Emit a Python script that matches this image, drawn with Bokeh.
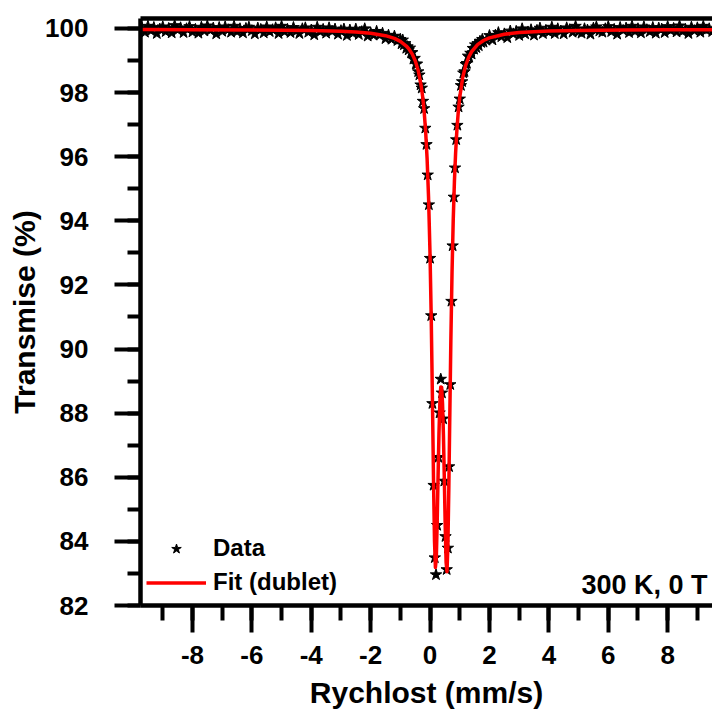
from bokeh.plotting import figure
from bokeh.models import (Range1d, LinearAxis, SingleIntervalTicker, FixedTicker,
                          Legend, LegendItem, Label, ColumnDataSource, PrintfTickFormatter)
from bokeh.embed import file_html
from bokeh.resources import INLINE

# ---- measured spectrum (velocity mm/s, transmission %) ----
vel_left = [-9.7, -9.6, -9.5, -9.4, -9.3, -9.2, -9.1, -9.0, -8.9, -8.8, -8.7, -8.6, -8.5, -8.4,
            -8.3, -8.2, -8.1, -8.0, -7.9, -7.8, -7.7, -7.6, -7.5, -7.4, -7.3, -7.2, -7.1, -7.0,
            -6.9, -6.8, -6.7, -6.6, -6.5, -6.4, -6.3, -6.2, -6.1, -6.0, -5.9, -5.8, -5.7, -5.6,
            -5.5, -5.4, -5.3, -5.2, -5.1, -5.0, -4.9, -4.8, -4.7, -4.6, -4.5, -4.4, -4.3, -4.2,
            -4.1, -4.0, -3.9, -3.8, -3.7, -3.6, -3.5, -3.4, -3.3, -3.2, -3.1, -3.0, -2.9, -2.8,
            -2.7, -2.6, -2.5, -2.4, -2.3, -2.2, -2.1, -2.0, -1.9, -1.8, -1.7, -1.6, -1.5, -1.4,
            -1.3, -1.2, -1.1]
trans_left = [100.01, 99.88, 100.07, 99.93, 100.03, 99.84, 99.98, 100.05, 99.90, 100.00, 99.86,
              100.09, 99.95, 100.02, 99.87, 99.99, 100.06, 99.89, 99.97, 99.85, 100.04, 99.92,
              100.08, 99.94, 100.01, 99.83, 100.03, 99.91, 100.05, 99.96, 99.88, 100.07, 99.90,
              99.99, 99.86, 100.00, 100.04, 99.93, 99.83, 100.01, 99.97, 99.86, 100.05, 99.90,
              99.96, 100.02, 99.84, 100.07, 99.90, 99.97, 99.87, 100.03, 99.92, 99.84, 99.99,
              100.02, 99.88, 99.95, 99.80, 100.04, 99.90, 99.97, 99.85, 100.02, 99.91, 99.98,
              99.82, 99.93, 99.98, 99.78, 99.95, 99.85, 99.98, 99.81, 99.90, 99.99, 99.76, 99.86,
              99.79, 99.91, 99.79, 99.85, 99.68, 99.79, 99.66, 99.76, 99.62]

vel_dip = [-1.0, -0.96, -0.92, -0.88, -0.84, -0.8, -0.76, -0.72, -0.68, -0.64, -0.6, -0.56, -0.52,
           -0.48, -0.44, -0.4, -0.36, -0.32, -0.28, -0.24, -0.2, -0.16, -0.12, -0.08, -0.04, 0.0,
           0.04, 0.08, 0.12, 0.16, 0.2, 0.24, 0.28, 0.32, 0.36, 0.4, 0.44, 0.48, 0.52, 0.56, 0.6,
           0.64, 0.68, 0.72, 0.76, 0.8, 0.84, 0.88, 0.92, 0.96, 1.0, 1.04, 1.08, 1.12, 1.16, 1.2,
           1.24, 1.28, 1.32, 1.36, 1.4, 1.44, 1.48, 1.52, 1.56, 1.6, 1.64, 1.68, 1.72, 1.76, 1.8]
trans_dip = [99.66, 99.52, 99.64, 99.49, 99.53, 99.38, 99.43, 99.33, 99.39, 99.24,
             99.25, 99.04, 99.07, 98.89, 98.89, 98.65, 98.55, 98.24, 98.14, 97.73,
             97.50, 96.89, 96.38, 95.43, 94.50, 92.83, 91.04, 88.30, 85.75, 83.49,
             82.96, 84.50, 86.62, 88.01, 89.06, 88.63, 87.82, 85.88, 84.15, 83.12,
             83.79, 86.33, 88.89, 91.49, 93.22, 94.74, 95.65, 96.53, 96.98, 97.55,
             97.80, 98.22, 98.34, 98.61, 98.65, 98.88, 98.91, 99.14, 99.10, 99.23,
             99.20, 99.38, 99.35, 99.49, 99.40, 99.53, 99.46, 99.60, 99.56, 99.66, 99.57]

vel_right = [1.9, 2.0, 2.1, 2.2, 2.3, 2.4, 2.5, 2.6, 2.7, 2.8, 2.9, 3.0, 3.1, 3.2, 3.3, 3.4, 3.5,
             3.6, 3.7, 3.8, 3.9, 4.0, 4.1, 4.2, 4.3, 4.4, 4.5, 4.6, 4.7, 4.8, 4.9, 5.0, 5.1, 5.2,
             5.3, 5.4, 5.5, 5.6, 5.7, 5.8, 5.9, 6.0, 6.1, 6.2, 6.3, 6.4, 6.5, 6.6, 6.7, 6.8, 6.9,
             7.0, 7.1, 7.2, 7.3, 7.4, 7.5, 7.6, 7.7, 7.8, 7.9, 8.0, 8.1, 8.2, 8.3, 8.4, 8.5, 8.6,
             8.7, 8.8, 8.9, 9.0, 9.1, 9.2, 9.3, 9.4, 9.5]
trans_right = [99.63, 99.78, 99.64, 99.79, 99.87, 99.74, 99.83, 99.71, 99.92, 99.83, 99.91,
               99.78, 99.99, 99.83, 99.89, 99.96, 99.79, 99.94, 100.01, 99.84, 99.94, 99.89,
               100.04, 99.84, 99.99, 99.92, 99.83, 100.02, 99.96, 99.88, 100.07, 99.90, 99.85,
               99.99, 99.95, 99.82, 100.01, 100.05, 99.92, 99.88, 99.99, 100.06, 99.90, 99.97,
               99.82, 100.03, 99.94, 100.01, 99.87, 100.07, 99.91, 99.99, 99.86, 100.05, 99.96,
               99.90, 100.03, 99.85, 100.01, 99.98, 99.87, 100.06, 99.94, 100.00, 99.89, 100.08,
               99.91, 99.97, 99.84, 100.04, 99.93, 100.02, 99.88, 100.07, 99.95, 99.99, 99.90]

# ---- fitted doublet curve ----
fit_vel = [-9.75, -8, -6, -4, -3, -2.5, -2, -1.5, -1.2, -1.0, -0.8, -0.7, -0.6, -0.5, -0.4, -0.3,
           -0.25, -0.2, -0.15, -0.1, -0.05, 0, 0.04, 0.08, 0.12, 0.15, 0.18, 0.21, 0.24, 0.27,
           0.30, 0.33, 0.36, 0.39, 0.42, 0.45, 0.48, 0.51, 0.54, 0.57, 0.60, 0.63, 0.66, 0.70,
           0.74, 0.78, 0.82, 0.86, 0.90, 0.95, 1.0, 1.1, 1.2, 1.3, 1.4, 1.6, 1.8, 2.0, 2.5, 3.0,
           4.0, 5.0, 6.5, 8.0, 9.51]
fit_trans = [99.963, 99.960, 99.953, 99.935, 99.910, 99.888, 99.849, 99.774, 99.690, 99.598,
             99.452, 99.344, 99.198, 98.992, 98.689, 98.216, 97.873, 97.420, 96.803, 95.943,
             94.709, 92.912, 90.920, 88.404, 85.668, 83.994, 83.187, 83.472, 84.599, 86.051,
             87.377, 88.332, 88.816, 88.805, 88.299, 87.322, 85.971, 84.496, 83.350, 83.056,
             83.867, 85.554, 87.620, 90.263, 92.410, 94.028, 95.226, 96.115, 96.783, 97.405,
             97.862, 98.473, 98.851, 99.101, 99.275, 99.495, 99.624, 99.707, 99.818, 99.871,
             99.918, 99.938, 99.952, 99.958, 99.962]

x_ticks_interval = 2
y_ticks_interval = 2
legend_labels = ["Data", "Fit (dublet)"]
condition_text = "300 K, 0 T"

FONT = "Liberation Sans"

data_src = ColumnDataSource(dict(x=vel_left + vel_dip + vel_right,
                                 y=trans_left + trans_dip + trans_right))
fit_src = ColumnDataSource(dict(x=fit_vel, y=fit_trans))

p = figure(width=712, height=715, output_backend="svg", toolbar_location=None,
           x_range=Range1d(-9.75, 9.51), y_range=Range1d(82, 100.31),
           min_border_left=140, min_border_right=0, min_border_top=18, min_border_bottom=110,
           x_axis_label="Rychlost (mm/s)", y_axis_label="Transmise (%)")
p.outline_line_color = None
p.xgrid.visible = False
p.ygrid.visible = False
p.background_fill_color = "white"
p.border_fill_color = "white"

r_data = p.scatter("x", "y", source=data_src, marker="star", size=12,
                   fill_color="black", line_color="black", line_width=1)
r_fit = p.line("x", "y", source=fit_src, line_color="#ff0000", line_width=3.5,
               line_join="round")

for ax, iv in ((p.xaxis[0], x_ticks_interval), (p.yaxis[0], y_ticks_interval)):
    ax.ticker = SingleIntervalTicker(interval=iv, num_minor_ticks=2)
    ax.formatter = PrintfTickFormatter(format="%d")
    ax.axis_line_width = 4.5
    ax.major_tick_line_width = 4
    ax.minor_tick_line_width = 4
    ax.major_tick_in = 0
    ax.minor_tick_in = 0
    ax.major_label_text_font = FONT
    ax.major_label_text_font_style = "bold"
    ax.major_label_text_font_size = "26px"
    ax.major_label_text_color = "black"
    ax.axis_label_text_font = FONT
    ax.axis_label_text_font_style = "bold"
    ax.axis_label_text_font_size = "30px"
    ax.axis_label_text_color = "black"

p.xaxis[0].major_tick_out = 27
p.xaxis[0].minor_tick_out = 15
p.xaxis[0].major_label_standoff = 13
p.xaxis[0].axis_label_standoff = 9
p.yaxis[0].major_tick_out = 26
p.yaxis[0].minor_tick_out = 13
p.yaxis[0].major_label_standoff = 26
p.yaxis[0].axis_label_standoff = 1

top = LinearAxis(ticker=FixedTicker(ticks=[]), axis_line_width=4.5,
                 major_tick_out=0, minor_tick_out=0, major_tick_in=0, minor_tick_in=0,
                 major_label_text_font_size="0px", major_label_standoff=0)
p.add_layout(top, "above")

legend = Legend(items=[LegendItem(label=legend_labels[0], renderers=[r_data]),
                       LegendItem(label=legend_labels[1], renderers=[r_fit])],
                location=(-2, 1), glyph_width=60, glyph_height=25, label_height=25,
                spacing=6, padding=8, margin=0, label_standoff=7,
                label_text_font=FONT, label_text_font_style="bold",
                label_text_font_size="24px", label_text_color="black",
                border_line_alpha=0, background_fill_alpha=0)
p.add_layout(legend)

p.add_layout(Label(x=9.34, y=82.65, text=condition_text, text_align="right",
                   text_baseline="alphabetic", text_font=FONT, text_font_style="bold",
                   text_font_size="27px", text_color="black"))

open("out.html", "w").write(file_html(p, INLINE))
